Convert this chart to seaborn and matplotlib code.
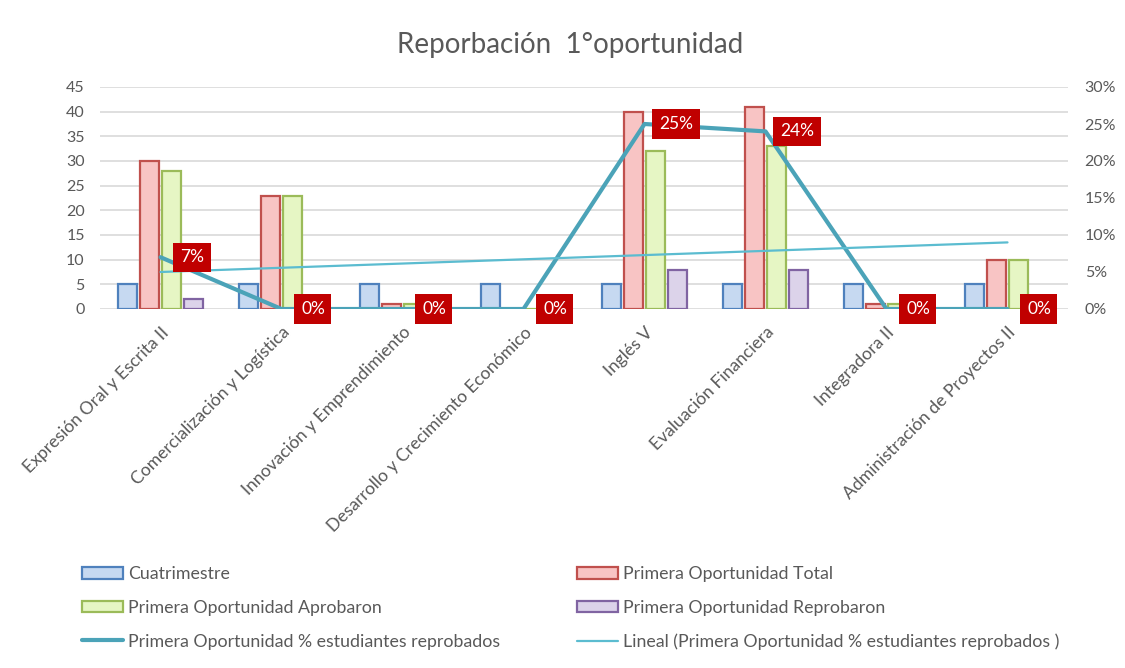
import numpy as np
import pandas as pd
import matplotlib
matplotlib.use("Agg")
import matplotlib.pyplot as plt
from matplotlib.patches import Patch
from matplotlib.lines import Line2D
import seaborn as sns

categories = ["Expresión Oral y Escrita II", "Comercialización y Logística",
              "Innovación y Emprendimiento", "Desarrollo y Crecimiento Económico",
              "Inglés V", "Evaluación Financiera", "Integradora II",
              "Administración de Proyectos II"]
cuatrimestre = [5, 5, 5, 5, 5, 5, 5, 5]
total = [30, 23, 1, 0, 40, 41, 1, 10]
aprobaron = [28, 23, 1, 0, 32, 33, 1, 10]
reprobaron = [2, 0, 0, 0, 8, 8, 0, 0]
pct_reprob = [0.07, 0.0, 0.0, 0.0, 0.25, 0.24, 0.0, 0.0]
pct_labels = ["7%", "0%", "0%", "0%", "25%", "24%", "0%", "0%"]
series_names = ["Cuatrimestre", "Primera Oportunidad Total",
                "Primera Oportunidad Aprobaron", "Primera Oportunidad Reprobaron"]
line_name = "Primera Oportunidad % estudiantes reprobados"
trend_name = "Lineal (Primera Oportunidad % estudiantes reprobados )"
left_ticks = [0, 5, 10, 15, 20, 25, 30, 35, 40, 45]
right_ticks = [0, 0.05, 0.10, 0.15, 0.20, 0.25, 0.30]

faces = ["#C6D9F1", "#F8C4C4", "#E6F6C4", "#DCD3EA"]
edges = ["#4F81BD", "#C0504D", "#9BBB59", "#8064A2"]
line_col = "#4BA3B8"
trend_col = "#5BBCD0"
gray = "#595959"

sns.set_theme(style="white")
plt.rcParams["font.family"] = ["Lato", "DejaVu Sans"]

df = pd.DataFrame({
    "cat": categories * 4,
    "serie": sum([[s] * len(categories) for s in series_names], []),
    "val": cuatrimestre + total + aprobaron + reprobaron,
})

fig = plt.figure(figsize=(11.25, 6.68), dpi=100)
ax = fig.add_axes([100 / 1125, 1 - 309 / 668, 968 / 1125, 222 / 668])

sns.barplot(data=df, x="cat", y="val", hue="serie", hue_order=series_names,
            palette=faces, width=0.72, gap=0.14, ax=ax, legend=False,
            linewidth=1.6, saturation=1)
for cont, ec in zip(ax.containers, edges):
    for p in cont:
        p.set_edgecolor(ec)
        p.set_linewidth(1.6)

ax.set_xlim(-0.5, 7.5)
ax.set_ylim(0, 45)
ax.set_yticks(left_ticks)
ax.set_yticklabels([str(t) for t in left_ticks], color=gray, fontsize=11.5)
ax.yaxis.grid(True, color="#D9D9D9", linewidth=1.2)
ax.set_axisbelow(True)
for s in ax.spines.values():
    s.set_visible(False)
ax.set_xlabel("")
ax.set_ylabel("")
ax.set_xticks(range(len(categories)))
ax.set_xticklabels(categories, rotation=45, ha="right", rotation_mode="anchor",
                   color=gray, fontsize=12.6)
ax.tick_params(axis="x", pad=11, length=0)
ax.tick_params(axis="y", length=0, pad=11)

ax2 = ax.twinx()
xs = np.arange(len(categories))
line_df = pd.DataFrame({"x": xs, "y": pct_reprob})
sns.lineplot(data=line_df, x="x", y="y", ax=ax2, color=line_col, linewidth=3)
sns.regplot(data=line_df, x="x", y="y", ax=ax2, scatter=False, ci=None,
            line_kws={"color": trend_col, "linewidth": 1.6})
ax2.set_xlim(-0.5, 7.5)
ax2.set_ylim(0, 0.30)
ax2.set_yticks(right_ticks)
ax2.set_yticklabels([f"{int(round(t*100))}%" for t in right_ticks], color=gray, fontsize=11.5)
ax2.tick_params(axis="y", length=0, pad=12)
ax2.set_xlabel("")
ax2.set_ylabel("")
for s in ax2.spines.values():
    s.set_visible(False)

for x, y, lab in zip(xs, pct_reprob, pct_labels):
    ax2.text(x + 0.26, y, lab, color="white", fontsize=12.5, ha="center", va="center",
             bbox=dict(boxstyle="square,pad=0.38", facecolor="#C00000", edgecolor="none"),
             zorder=10, clip_on=False)

fig.text(0.507, 1 - 45 / 668, "Reporbación  1°oportunidad", ha="center", va="center",
         fontsize=20, color=gray)

def bar_handle(i):
    return Patch(facecolor=faces[i], edgecolor=edges[i], linewidth=1.6)

leg_kw = dict(frameon=False, fontsize=12.8, labelcolor=gray, handlelength=2.3,
              handleheight=0.65, handletextpad=0.3, labelspacing=1.0, loc="upper left")
h1 = [bar_handle(0), bar_handle(2), Line2D([], [], color=line_col, linewidth=3)]
l1 = [series_names[0], series_names[2], line_name]
h2 = [bar_handle(1), bar_handle(3), Line2D([], [], color=trend_col, linewidth=1.6)]
l2 = [series_names[1], series_names[3], trend_name]
fig.legend(h1, l1, bbox_to_anchor=(66 / 1125, 1 - 550 / 668), **leg_kw)
fig.legend(h2, l2, bbox_to_anchor=(561 / 1125, 1 - 550 / 668), **leg_kw)

fig.savefig("out.png", dpi=100)
